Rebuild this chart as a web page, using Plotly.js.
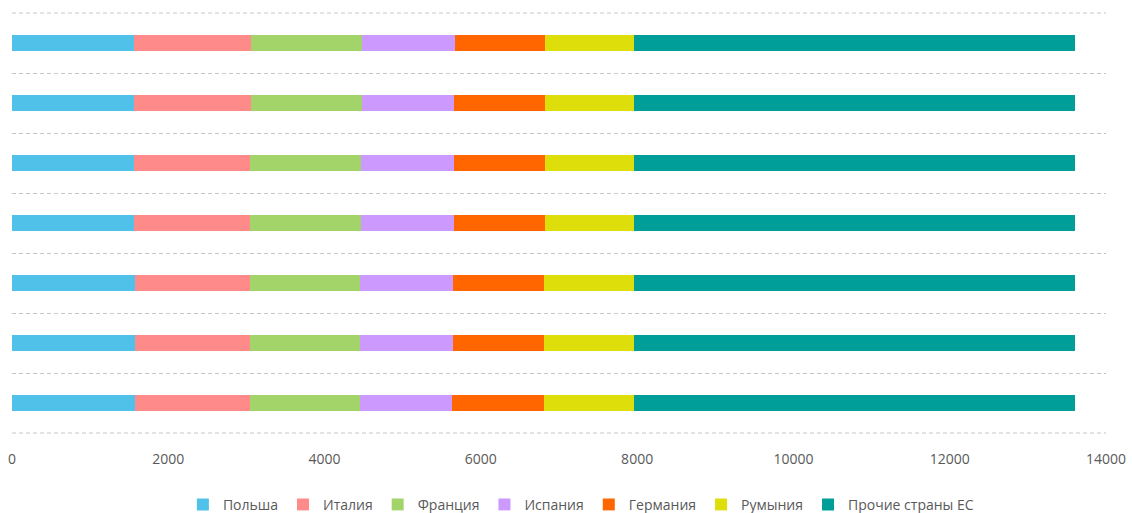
<!DOCTYPE html>
<html>
<head>
<meta charset="utf-8">
<script src="https://cdn.plot.ly/plotly-3.0.1.min.js"></script>
<style>html,body{margin:0;padding:0;background:#fff;}</style>
</head>
<body>
<div id="chart" style="width:1132px;height:513px;"></div>
<script>
// rows listed bottom-to-top
const categories = ['1', '2', '3', '4', '5', '6', '7'];
const poland   = [1578, 1574, 1574, 1565, 1565, 1565, 1561];
const italy    = [1468, 1472, 1476, 1485, 1485, 1494, 1498];
const france   = [1404, 1411, 1407, 1420, 1420, 1416, 1424];
const spain    = [1185, 1183, 1187, 1183, 1186, 1181, 1186];
const germany  = [1173, 1168, 1168, 1168, 1165, 1169, 1156];
const romania  = [1156, 1156, 1152, 1143, 1143, 1139, 1139];
const otherEU  = [5636, 5636, 5636, 5636, 5636, 5636, 5636];

const seriesNames = ['Польша', 'Италия', 'Франция', 'Испания', 'Германия', 'Румыния', 'Прочие страны ЕС'];
const seriesValues = [poland, italy, france, spain, germany, romania, otherEU];
const colors = ['#50C1E8', '#FF8A8A', '#A2D46A', '#CC99FF', '#FF6600', '#DEDE0A', '#009E99'];
const xTicks = [0, 2000, 4000, 6000, 8000, 10000, 12000, 14000];

const traces = seriesNames.map((name, i) => ({
  type: 'bar',
  orientation: 'h',
  name: name,
  y: categories,
  x: seriesValues[i],
  marker: {color: colors[i], line: {width: 0}},
  hoverinfo: 'x+name'
}));

const gridStyle = {color: '#c6c6c6', width: 1, dash: '4px,3px'};

const layout = {
  width: 1132,
  height: 513,
  barmode: 'stack',
  bargap: 0.72,
  margin: {l: 12, r: 26, t: 13, b: 80, autoexpand: false},
  paper_bgcolor: '#ffffff',
  plot_bgcolor: '#ffffff',
  font: {family: 'Open Sans, sans-serif', size: 14, color: '#595959'},
  xaxis: {
    range: [0, 14000],
    tickvals: xTicks,
    ticktext: xTicks.map(String),
    showgrid: false,
    zeroline: false,
    showline: false,
    ticks: '',
    ticklabelstandoff: 16,
    tickfont: {size: 14, color: '#595959'}
  },
  yaxis: {
    type: 'category',
    categoryorder: 'array',
    categoryarray: categories,
    range: [-0.5, 6.5],
    showticklabels: false,
    tickson: 'boundaries',
    showgrid: true,
    gridcolor: '#c6c6c6',
    gridwidth: 1,
    griddash: '4px,3px',
    zeroline: false,
    showline: false,
    ticks: ''
  },
  shapes: [
    {type: 'line', xref: 'paper', yref: 'paper', x0: 0, x1: 1, y0: 1, y1: 1, line: gridStyle, layer: 'below'},
    {type: 'line', xref: 'paper', yref: 'paper', x0: 0, x1: 1, y0: 0, y1: 0, line: gridStyle, layer: 'below'}
  ],
  legend: {
    orientation: 'h',
    x: 0.52,
    xanchor: 'center',
    yref: 'container',
    y: 0.016,
    yanchor: 'middle',
    font: {size: 14, color: '#595959'},
    traceorder: 'normal',
    itemwidth: 30
  },
  showlegend: true
};

Plotly.newPlot('chart', traces, layout, {displayModeBar: false, staticPlot: true});
</script>
</body>
</html>
